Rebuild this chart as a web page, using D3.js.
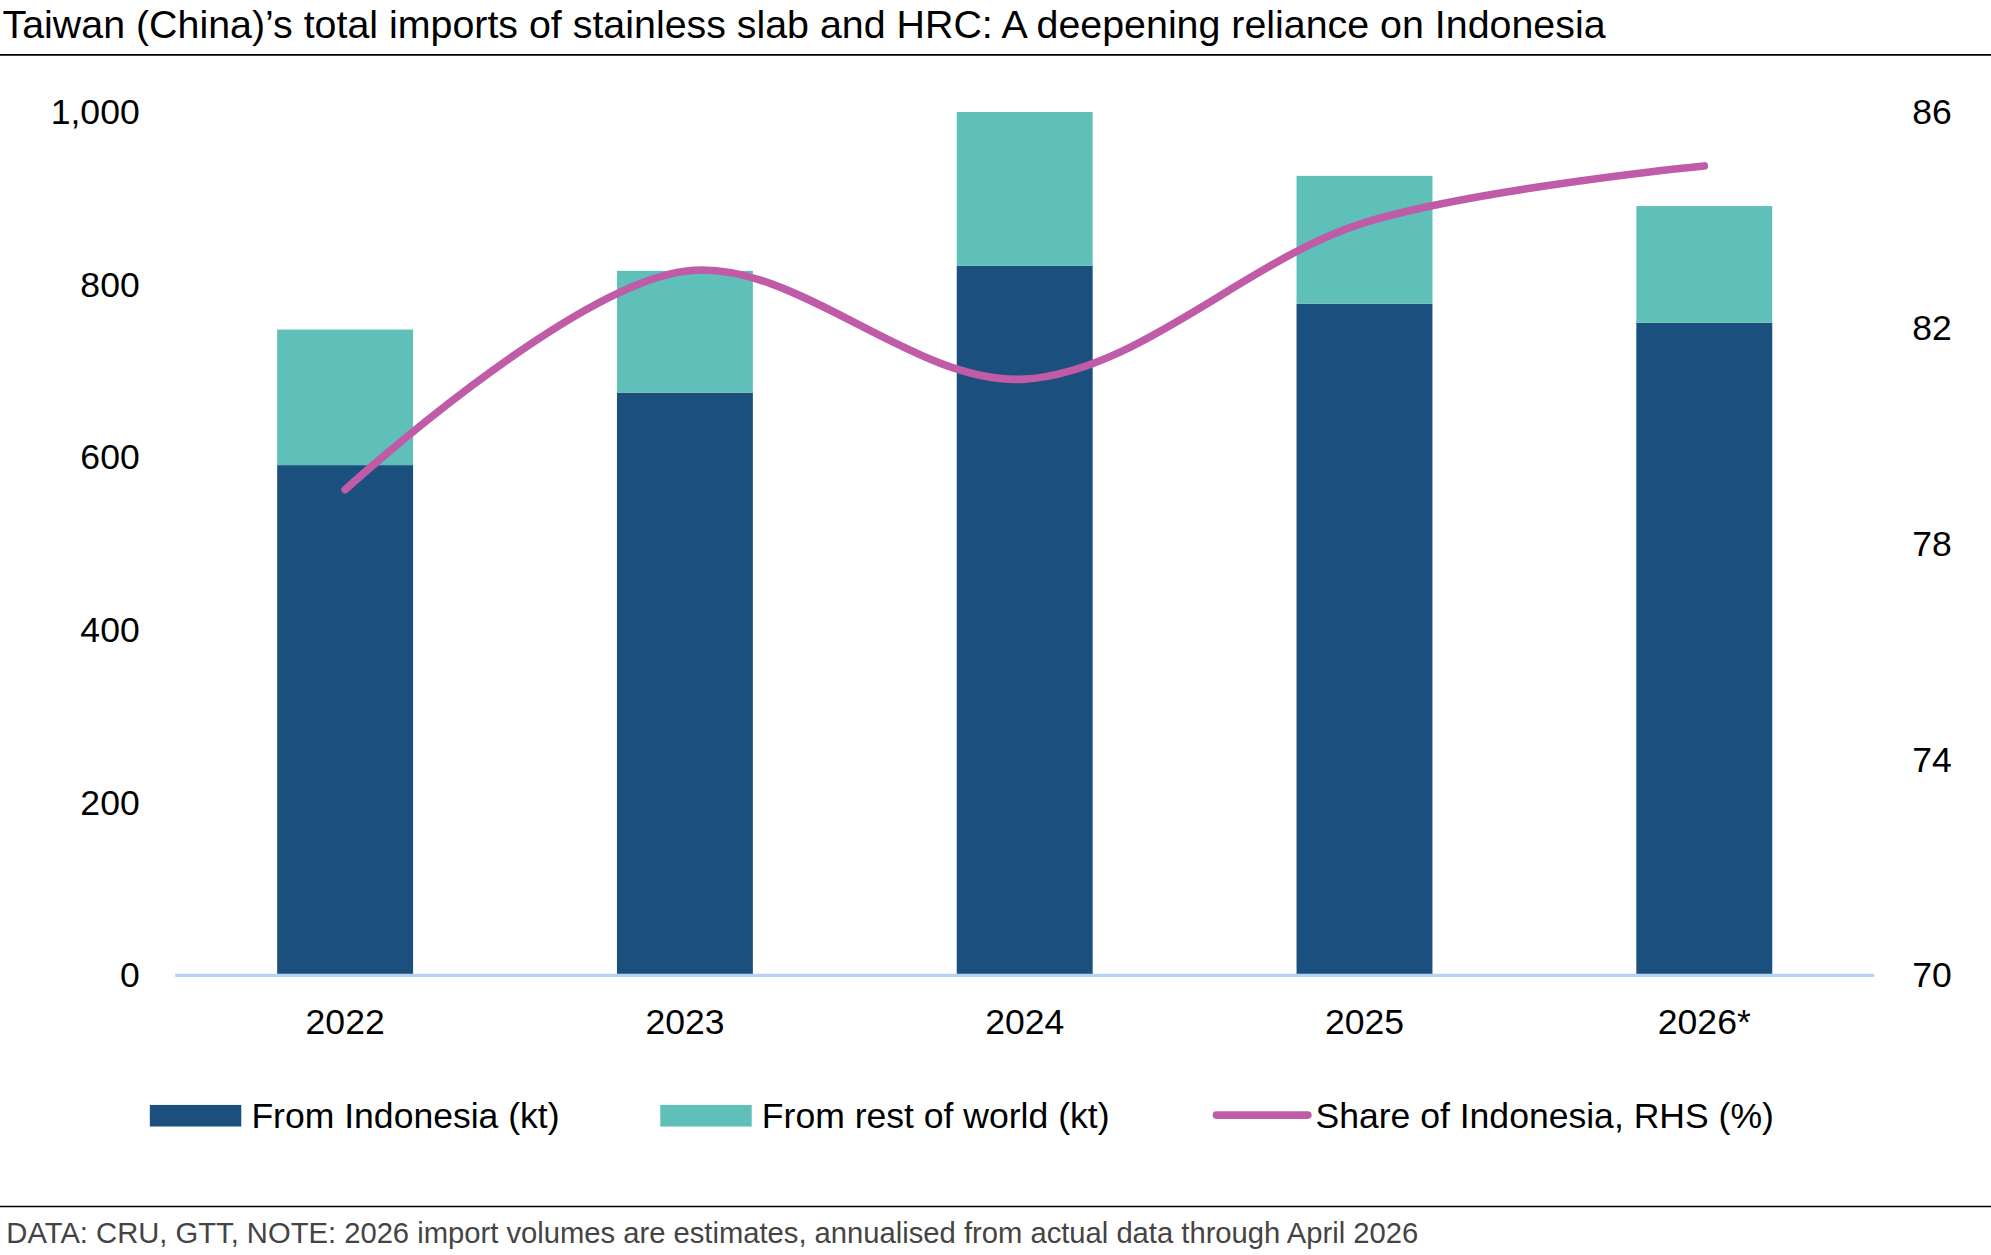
<!DOCTYPE html>
<html><head><meta charset="utf-8">
<script src="https://cdn.jsdelivr.net/npm/d3@7"></script>
<style>body{margin:0;background:#fff}svg{display:block}text{font-family:"Liberation Sans",Arial,sans-serif;fill:#000}</style>
</head><body>
<svg id="c" width="1991" height="1255" viewBox="0 0 1568 988"></svg>
<script>
const years = ["2022","2023","2024","2025","2026*"];
const fromIndonesia = [591, 675, 822, 778, 756];
const fromRest = [157, 141, 178, 148, 135];
const shareIndonesia = [79.0, 83.05, 81.05, 83.95, 85.0];
const leftTicks = [0,200,400,600,800,1000];
const rightTicks = [70,74,78,82,86];

const svg = d3.select("#c");
const L=138, R=1476, T=88, B=768;
const x = d3.scaleBand().domain(years).range([L,R]).paddingInner(0.6).paddingOuter(0.3);
const y = d3.scaleLinear().domain([0,1000]).range([B,T]);
const y2 = d3.scaleLinear().domain([70,86]).range([B,T]);

svg.append("text").attr("x",2).attr("y",30).attr("font-size",31).text("Taiwan (China)’s total imports of stainless slab and HRC: A deepening reliance on Indonesia");
svg.append("line").attr("x1",0).attr("x2",1568).attr("y1",43).attr("y2",43).attr("stroke","#000").attr("stroke-width",1.5);

svg.selectAll(".bi").data(years).join("rect").attr("x",d=>x(d)).attr("width",x.bandwidth())
 .attr("y",(d,i)=>y(fromIndonesia[i])).attr("height",(d,i)=>B-y(fromIndonesia[i])).attr("fill","#1b507e");
svg.selectAll(".br").data(years).join("rect").attr("x",d=>x(d)).attr("width",x.bandwidth())
 .attr("y",(d,i)=>y(fromIndonesia[i]+fromRest[i])).attr("height",(d,i)=>y(fromIndonesia[i])-y(fromIndonesia[i]+fromRest[i])).attr("fill","#5fbfb9");

svg.append("line").attr("x1",L).attr("x2",R).attr("y1",B).attr("y2",B).attr("stroke","#b7d3ef").attr("stroke-width",2.5);

const gl = svg.append("g").attr("transform",`translate(${L},0)`).call(d3.axisLeft(y).tickValues(leftTicks).tickFormat(d3.format(",")).tickSize(0).tickPadding(28));
const gr = svg.append("g").attr("transform",`translate(${R},0)`).call(d3.axisRight(y2).tickValues(rightTicks).tickSize(0).tickPadding(30));
const gx = svg.append("g").attr("transform",`translate(0,${B})`).call(d3.axisBottom(x).tickSize(0).tickPadding(26));
[gl,gr,gx].forEach(g=>{g.select(".domain").remove();g.selectAll("text").attr("font-size",28).style("font-family","Liberation Sans, Arial, sans-serif").attr("fill","#000");});

const line = d3.line().x((d,i)=>x(years[i])+x.bandwidth()/2).y(d=>y2(d)).curve(d3.curveCatmullRom.alpha(0.5));
svg.append("path").datum(shareIndonesia).attr("d",line).attr("fill","none").attr("stroke","#c05ba8").attr("stroke-width",6).attr("stroke-linecap","round");

const lg = svg.append("g");
lg.append("rect").attr("x",118).attr("y",870).attr("width",72).attr("height",17).attr("fill","#1b507e");
lg.append("text").attr("x",198).attr("y",888).attr("font-size",28).text("From Indonesia (kt)");
lg.append("rect").attr("x",520).attr("y",870).attr("width",72).attr("height",17).attr("fill","#5fbfb9");
lg.append("text").attr("x",600).attr("y",888).attr("font-size",28).text("From rest of world (kt)");
lg.append("line").attr("x1",958).attr("x2",1030).attr("y1",878).attr("y2",878).attr("stroke","#c05ba8").attr("stroke-width",6).attr("stroke-linecap","round");
lg.append("text").attr("x",1036).attr("y",888).attr("font-size",28).text("Share of Indonesia, RHS (%)");

svg.append("line").attr("x1",0).attr("x2",1568).attr("y1",950).attr("y2",950).attr("stroke","#000").attr("stroke-width",1.2);
svg.append("text").attr("x",5).attr("y",979).attr("font-size",23).attr("fill","#444").style("fill","#444").text("DATA: CRU, GTT, NOTE: 2026 import volumes are estimates, annualised from actual data through April 2026");
</script>
</body></html>
